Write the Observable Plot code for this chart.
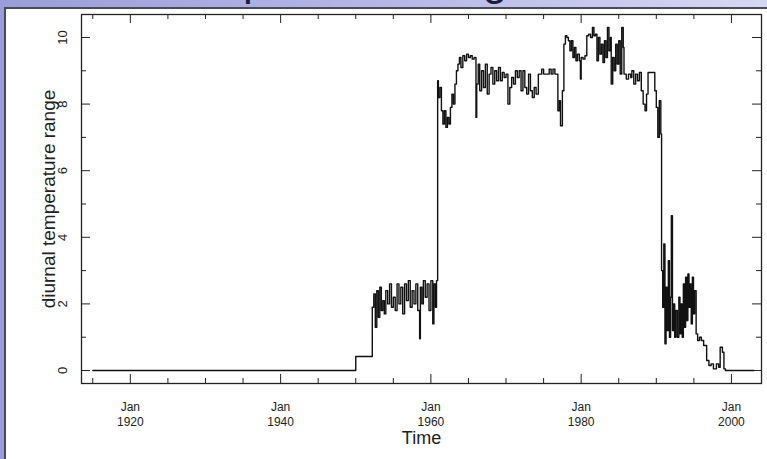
<!DOCTYPE html>
<html>
<head>
<meta charset="utf-8">
<script src="https://cdn.jsdelivr.net/npm/d3@7"></script>
<script src="https://cdn.jsdelivr.net/npm/@observablehq/plot@0.6"></script>
<style>
  html, body { margin: 0; padding: 0; }
  body { width: 767px; height: 459px; position: relative; overflow: hidden;
         background: linear-gradient(to right, #9a9ed8 0%, #b4b7e6 50%, #d6d8f2 100%); }
  #titleclip { position: absolute; left: 0; top: 0; width: 767px; height: 8px; overflow: hidden; }
  #title { position: absolute; left: 160px; top: -42px; font: 44px/44px "Liberation Sans", Arial, sans-serif;
           color: #1c1c3c; white-space: nowrap; }
  #panel { position: absolute; left: 4px; top: 7px; right: 0; bottom: 0; background: #fff;
           border-left: 2px solid #4a4a58; border-top: 2px solid #4a4a58; }
  #chart { position: absolute; left: 0; top: 0; }
</style>
</head>
<body>
<div id="titleclip"><div id="title">Temperature range</div></div>
<div id="panel"></div>
<div id="chart"></div>
<script>
// change points (decimal year) and diurnal temperature range value (step after)
const time = [
  1915.0, 1950.0,
  1952.2, 1952.4, 1952.6, 1952.8, 1953.0, 1953.2, 1953.4, 1953.6, 1953.8,
  1954.0, 1954.25, 1954.5, 1954.75, 1955.0, 1955.25, 1955.5, 1955.75,
  1956.0, 1956.25, 1956.5, 1956.75, 1957.0, 1957.25, 1957.5, 1957.75,
  1958.0, 1958.25, 1958.5, 1958.6, 1958.8, 1959.0, 1959.25, 1959.5, 1959.75,
  1960.0, 1960.25, 1960.4, 1960.6, 1960.75, 1960.9,
  1961.0, 1961.2, 1961.4, 1961.6, 1961.8, 1962.0, 1962.2, 1962.4, 1962.6, 1962.8,
  1963.0, 1963.2, 1963.4, 1963.6, 1963.8, 1964.0, 1964.25, 1964.5, 1964.75,
  1965.0, 1965.25, 1965.5, 1965.75, 1966.0, 1966.1, 1966.3, 1966.5, 1966.75,
  1967.0, 1967.25, 1967.5, 1967.75, 1968.0, 1968.25, 1968.5, 1968.75,
  1969.0, 1969.25, 1969.5, 1969.75, 1970.0, 1970.25, 1970.5, 1970.75,
  1971.0, 1971.25, 1971.5, 1971.75, 1972.0, 1972.25, 1972.5, 1972.75,
  1973.0, 1973.25, 1973.5, 1973.75, 1974.0, 1974.3, 1974.75, 1975.0, 1975.5, 1975.75,
  1976.0, 1976.25, 1976.5, 1976.9, 1977.1, 1977.25, 1977.5, 1977.7, 1977.9,
  1978.1, 1978.3, 1978.5, 1978.7, 1978.9, 1979.1, 1979.3, 1979.5, 1979.75, 1979.9,
  1980.0, 1980.25, 1980.5, 1980.75, 1981.0, 1981.25, 1981.5, 1981.7, 1981.9,
  1982.1, 1982.3, 1982.5, 1982.7, 1982.9, 1983.1, 1983.3, 1983.5, 1983.7, 1983.9,
  1984.0, 1984.2, 1984.4, 1984.6, 1984.8, 1985.0, 1985.2, 1985.4, 1985.6, 1985.7,
  1986.0, 1986.3, 1986.6, 1986.75, 1987.0, 1987.25, 1987.5, 1987.75,
  1988.0, 1988.25, 1988.5, 1988.7, 1988.9, 1989.25, 1989.5, 1989.8,
  1990.0, 1990.2, 1990.4, 1990.6, 1990.7, 1990.85, 1991.0, 1991.15, 1991.3, 1991.45,
  1991.6, 1991.75, 1991.9, 1992.0, 1992.15, 1992.3, 1992.45, 1992.6, 1992.8,
  1993.0, 1993.15, 1993.3, 1993.45, 1993.6, 1993.75, 1993.9, 1994.05, 1994.2, 1994.35,
  1994.5, 1994.65, 1994.8, 1994.95, 1995.1, 1995.3, 1995.5, 1995.75,
  1996.0, 1996.3, 1996.7, 1997.0, 1997.3, 1997.6, 1998.0, 1998.3, 1998.5, 1998.8,
  1999.0, 1999.2, 2003.0
];
const dtr = [
  0.0, 0.42,
  1.9, 2.3, 1.3, 2.4, 1.6, 2.5, 1.8, 2.1, 1.7,
  2.4, 2.0, 2.6, 1.9, 2.2, 1.8, 2.6, 2.0,
  2.5, 1.7, 2.6, 2.1, 2.7, 1.9, 2.4, 2.0,
  2.6, 1.8, 0.95, 2.5, 2.0, 2.7, 2.2, 2.6, 1.8,
  2.7, 1.4, 2.6, 1.9, 2.7, 8.7,
  8.2, 8.5, 7.8, 7.4, 7.8, 7.3, 7.6, 7.4, 7.9, 8.3,
  8.0, 8.6, 9.0, 9.2, 9.4, 9.1, 9.45, 9.3, 9.5,
  9.4, 9.45, 9.35, 9.4, 7.6, 8.6, 9.2, 8.4, 9.0,
  8.5, 9.2, 8.3, 8.9, 9.1, 8.6, 9.0, 8.7,
  9.1, 8.7, 8.95, 8.8, 8.9, 8.0, 8.5, 8.8,
  8.6, 9.0, 8.8, 9.0, 8.4, 9.0, 8.5, 8.3,
  8.9, 8.4, 8.2, 8.5, 8.3, 8.9, 9.05, 8.9, 8.9, 9.05,
  8.9, 9.05, 8.9, 7.8, 8.1, 7.35, 8.4, 9.8, 10.05,
  10.0, 9.9, 9.6, 9.9, 9.4, 9.7, 9.3, 9.5, 9.3, 8.75,
  9.4, 9.35, 9.45, 10.05, 10.1, 10.0, 10.3, 10.05, 10.1,
  9.3, 10.0, 9.5, 9.8, 9.25, 9.9, 9.4, 10.3, 9.6, 10.0,
  8.6, 9.4, 9.0, 9.8, 9.2, 9.9, 8.9, 10.3, 9.7, 8.9,
  8.75, 8.9, 8.8, 9.0, 8.6, 8.9, 8.7, 8.95,
  8.4, 8.0, 7.8, 8.3, 8.95, 8.95, 8.95, 8.4,
  7.9, 7.0, 8.1, 7.1, 3.0, 1.9, 3.8, 0.8, 2.5, 1.2,
  3.3, 1.0, 2.2, 4.65, 1.2, 2.0, 1.0, 1.8, 1.0,
  2.2, 1.1, 2.0, 1.0, 2.6, 1.3, 2.8, 1.5, 2.9, 1.9,
  2.6, 1.4, 2.8, 1.7, 2.4, 1.1, 0.9, 1.0,
  0.9, 0.75, 0.3, 0.15, 0.2, 0.05, 0.2, 0.1, 0.7, 0.55,
  0.05, 0.0, 0.0
];
const xMajor = [1920, 1940, 1960, 1980, 2000];
const xMinor = [1915, 1925, 1930, 1935, 1945, 1950, 1955, 1965, 1970, 1975, 1985, 1990, 1995];
const xLabels = ["Jan\n1920", "Jan\n1940", "Jan\n1960", "Jan\n1980", "Jan\n2000"];
const yMajor = [0, 2, 4, 6, 8, 10];
const yMinor = [1, 3, 5, 7, 9];
const yLabels = ["0", "2", "4", "6", "8", "10"];
const xTitle = "Time";
const yTitle = "diurnal temperature range";

const series = time.map((t, i) => ({t, v: dtr[i]}));

const W = 767, H = 459;
const mL = 81, mR = 6, mT = 14, mB = 76;
const innerW = W - mL - mR, innerH = H - mT - mB;
const majorLen = 9, minorLen = 5;
const font = '"Liberation Sans", Arial, sans-serif';

const chart = Plot.plot({
  width: W, height: H,
  marginLeft: mL, marginRight: mR, marginTop: mT, marginBottom: mB,
  style: {background: "transparent", fontFamily: font, color: "#111"},
  x: {domain: [1913.5, 2004], axis: null},
  y: {domain: [-0.39, 10.69], axis: null},
  marks: [
    // inward ticks on all four sides
    Plot.tickX(xMajor, {x: d => d, insetTop: innerH - majorLen, stroke: "#222"}),
    Plot.tickX(xMinor, {x: d => d, insetTop: innerH - minorLen, stroke: "#222"}),
    Plot.tickX(xMajor, {x: d => d, insetBottom: innerH - majorLen, stroke: "#222"}),
    Plot.tickX(xMinor, {x: d => d, insetBottom: innerH - minorLen, stroke: "#222"}),
    Plot.tickY(yMajor, {y: d => d, insetRight: innerW - majorLen, stroke: "#222"}),
    Plot.tickY(yMinor, {y: d => d, insetRight: innerW - minorLen, stroke: "#222"}),
    Plot.tickY(yMajor, {y: d => d, insetLeft: innerW - majorLen, stroke: "#222"}),
    Plot.tickY(yMinor, {y: d => d, insetLeft: innerW - minorLen, stroke: "#222"}),
    Plot.line(series, {x: "t", y: "v", curve: "step-after", stroke: "#111", strokeWidth: 1.4}),
    Plot.frame({stroke: "#222", strokeWidth: 1.3}),
    // tick labels
    Plot.text(xMajor, {x: d => d, text: (d, i) => xLabels[i], frameAnchor: "bottom", dy: 30.5,
      lineAnchor: "middle", lineHeight: 1.25, fontSize: 12, fill: "#222"}),
    Plot.text(yMajor, {y: d => d, text: (d, i) => yLabels[i], frameAnchor: "left", dx: -19,
      rotate: -90, textAnchor: "middle", lineAnchor: "middle", fontSize: 13, fill: "#222"}),
    // axis titles
    Plot.text([xTitle], {text: d => d, frameAnchor: "bottom", dy: 55, lineAnchor: "middle",
      fontSize: 18, fill: "#222"}),
    Plot.text([yTitle], {text: d => d, frameAnchor: "left", dx: -33, rotate: -90,
      textAnchor: "middle", lineAnchor: "middle", fontSize: 19, fill: "#222"})
  ]
});
document.getElementById("chart").appendChild(chart);
</script>
</body>
</html>
